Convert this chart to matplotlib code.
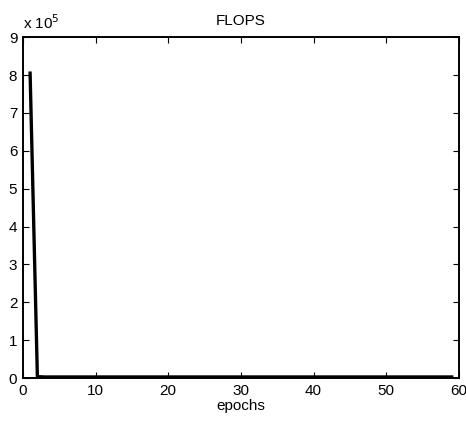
import matplotlib
matplotlib.use("Agg")
import matplotlib.pyplot as plt

plt.rcParams['font.family'] = ['Liberation Sans', 'DejaVu Sans']

# FLOPS per training epoch
epochs = list(range(1, 60))
flops = [8.05e5, 4.0e3,
         3.0e3, 3.0e3, 3.0e3, 3.0e3, 3.0e3, 3.0e3, 3.0e3, 3.0e3, 3.0e3, 3.0e3,
         3.0e3, 3.0e3, 3.0e3, 3.0e3, 3.0e3, 3.0e3, 3.0e3, 3.0e3, 3.0e3, 3.0e3,
         3.0e3, 3.0e3, 3.0e3, 3.0e3, 3.0e3, 3.0e3, 3.0e3, 3.0e3, 3.0e3, 3.0e3,
         3.0e3, 3.0e3, 3.0e3, 3.0e3, 3.0e3, 3.0e3, 3.0e3, 3.0e3, 3.0e3, 3.0e3,
         3.0e3, 3.0e3, 3.0e3, 3.0e3, 3.0e3, 3.0e3, 3.0e3, 3.0e3, 3.0e3, 3.0e3,
         3.0e3, 3.0e3, 3.0e3, 3.0e3, 3.0e3, 3.0e3, 3.0e3]

fig = plt.figure(figsize=(4.66, 4.22), dpi=100)
ax = fig.add_axes([0.049, 0.104, 0.936, 0.808])
ax.plot(epochs, [v / 1e5 for v in flops], color='black', linewidth=2.4)

ax.set_xlim(0, 60)
ax.set_ylim(0, 9)
ax.set_xticks(range(0, 61, 10))
ax.set_yticks(range(0, 10))
ax.tick_params(direction='in', top=True, right=True, labelsize=11, length=4, pad=4)
for s in ax.spines.values():
    s.set_linewidth(1.4)

ax.set_title('FLOPS', fontsize=11, pad=9)
ax.set_xlabel('epochs', fontsize=11, labelpad=1)
ax.text(0.0, 1.015, r'x 10$^{5}$', transform=ax.transAxes, fontsize=11,
        ha='left', va='bottom')

fig.savefig('out.png', dpi=100)
